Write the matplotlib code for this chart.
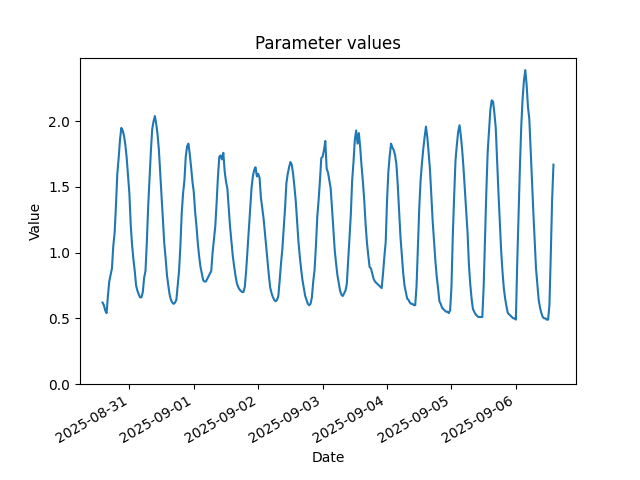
import matplotlib
matplotlib.use("Agg")
import matplotlib.pyplot as plt
import pandas as pd

start_time = "2025-08-30 14:00"
end_time = "2025-09-06 14:00"
sample_freq = "30min"

values = [
    # 2025-08-30 14:00 onward (30-minute samples)
    0.62, 0.60, 0.56, 0.54, 0.67, 0.78, 0.83, 0.88, 1.05, 1.15,
    1.36, 1.60, 1.72, 1.86, 1.95, 1.93, 1.89, 1.82, 1.72, 1.59,
    1.45, 1.21, 1.06, 0.95, 0.86, 0.75, 0.71, 0.68, 0.66, 0.66,
    0.70, 0.81, 0.86, 1.08, 1.35, 1.56, 1.77, 1.94, 2.00, 2.04,
    1.98, 1.90, 1.78, 1.60, 1.43, 1.24, 1.07, 0.96, 0.83, 0.75,
    0.68, 0.64, 0.62, 0.61, 0.62, 0.64, 0.75, 0.86, 1.05, 1.30,
    1.45, 1.55, 1.73, 1.81, 1.83, 1.75, 1.65, 1.54, 1.46, 1.31,
    1.20, 1.07, 0.97, 0.89, 0.84, 0.79, 0.78, 0.78, 0.80, 0.82,
    0.84, 0.86, 1.00, 1.10, 1.20, 1.38, 1.58, 1.73, 1.74, 1.71,
    1.76, 1.62, 1.54, 1.49, 1.35, 1.20, 1.09, 0.98, 0.90, 0.83,
    0.77, 0.74, 0.72, 0.71, 0.70, 0.70, 0.74, 0.86, 1.02, 1.18,
    1.33, 1.49, 1.58, 1.63, 1.65, 1.58, 1.60, 1.57, 1.42, 1.34,
    1.26, 1.15, 1.04, 0.93, 0.82, 0.73, 0.69, 0.66, 0.64, 0.63,
    0.64, 0.67, 0.79, 0.92, 1.03, 1.18, 1.34, 1.53, 1.60, 1.65,
    1.69, 1.67, 1.60, 1.50, 1.39, 1.24, 1.08, 0.97, 0.87, 0.79,
    0.73, 0.67, 0.64, 0.61, 0.60, 0.61, 0.66, 0.78, 0.87, 1.05,
    1.27, 1.40, 1.55, 1.72, 1.73, 1.78, 1.85, 1.64, 1.61, 1.55,
    1.49, 1.34, 1.18, 1.02, 0.92, 0.83, 0.77, 0.71, 0.68, 0.67,
    0.69, 0.71, 0.76, 0.93, 1.11, 1.29, 1.55, 1.69, 1.86, 1.93,
    1.83, 1.91, 1.80, 1.66, 1.54, 1.40, 1.22, 1.08, 0.98, 0.89,
    # 2025-09-03 18:00 onward
    0.88, 0.84, 0.80, 0.78, 0.77, 0.76, 0.75, 0.74, 0.73, 0.84,
    0.97, 1.08, 1.40, 1.62, 1.74, 1.83, 1.80, 1.78, 1.74, 1.67,
    1.51, 1.31, 1.12, 0.98, 0.85, 0.75, 0.70, 0.65, 0.64, 0.62,
    0.61, 0.61, 0.60, 0.60, 0.75, 1.05, 1.34, 1.55, 1.68, 1.79,
    1.88, 1.96, 1.88, 1.76, 1.63, 1.43, 1.24, 1.09, 0.94, 0.82,
    0.73, 0.63, 0.61, 0.58, 0.57, 0.56, 0.55, 0.55, 0.54, 0.56,
    0.74, 1.13, 1.43, 1.70, 1.82, 1.92, 1.97, 1.89, 1.78, 1.64,
    1.48, 1.31, 1.15, 0.91, 0.76, 0.65, 0.57, 0.55, 0.53, 0.52,
    0.51, 0.51, 0.51, 0.51, 0.74, 1.12, 1.47, 1.77, 1.93, 2.09,
    2.16, 2.15, 2.06, 1.95, 1.70, 1.46, 1.24, 1.02, 0.86, 0.73,
    0.65, 0.59, 0.54, 0.53, 0.52, 0.51, 0.50, 0.50, 0.49, 0.92,
    1.30, 1.65, 1.96, 2.17, 2.31, 2.39, 2.28, 2.11, 2.02, 1.79,
    1.55, 1.31, 1.10, 0.88, 0.76, 0.64, 0.58, 0.54, 0.51, 0.50,
    0.50, 0.49, 0.49, 0.60, 0.98, 1.40, 1.67,
]

dates = pd.date_range(start_time, end_time, freq=sample_freq)

fig, ax = plt.subplots(figsize=(6.4, 4.8), dpi=100)
ax.plot(dates, values, color="#1f77b4", linewidth=1.5)
ax.set_ylim(bottom=0)
ax.set_title("Parameter values")
ax.set_xlabel("Date")
ax.set_ylabel("Value")
fig.autofmt_xdate()
fig.savefig("out.png", dpi=100)
